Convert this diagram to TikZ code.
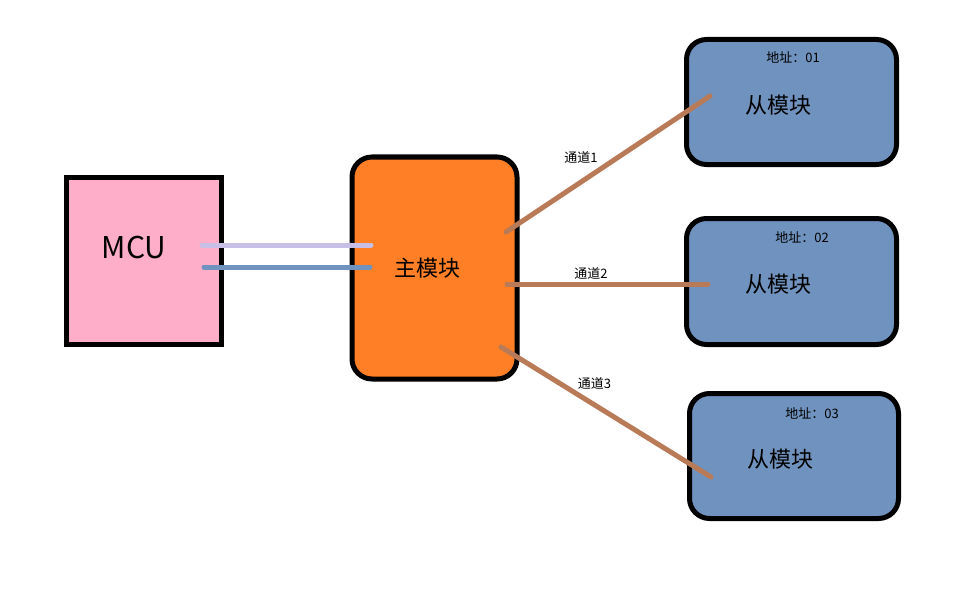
\documentclass[tikz,border=0pt]{standalone}
\usepackage{fontspec}
\setmainfont{Noto Sans CJK SC}
\definecolor{mcupink}{HTML}{FFAEC9}
\definecolor{mainorange}{HTML}{FF7F27}
\definecolor{slaveblue}{HTML}{7092BE}
\definecolor{chanbrown}{HTML}{B97A57}
\definecolor{lav}{HTML}{C8BFE7}
\begin{document}
\begin{tikzpicture}[x=1pt,y=-1pt,
  boxline/.style={draw=black,line width=5pt},
  slavebox/.style={boxline,fill=slaveblue,rounded corners=20pt},
  wire/.style={line width=5pt,line cap=round},
  chan/.style={wire,draw=chanbrown},
  big/.style={font=\fontsize{30}{34}\selectfont,inner sep=0pt},
  mid/.style={font=\fontsize{22}{26}\selectfont,inner sep=0pt},
  small/.style={font=\fontsize{13}{15}\selectfont,inner sep=0pt}]
\useasboundingbox (0,0) rectangle (969,591);
% boxes
\draw[boxline,fill=mcupink] (66.5,177.5) rectangle (221.5,344.5);
\node[big] (mcu) at (134,248) {MCU};
\draw[boxline,fill=mainorange,rounded corners=20pt] (352,157) rectangle (517,379);
\node[mid] (main) at (427,268) {主模块};
\draw[slavebox] (686.5,39.5) rectangle (896.5,164.5);
\draw[slavebox] (686.5,218.5) rectangle (896.5,344.5);
\draw[slavebox] (689.5,393.5) rectangle (898.5,518.5);
\node[small] (a1) at (793,57) {地址：01};
\node[mid] (s1) at (778,105) {从模块};
\node[small] (a2) at (802,237) {地址：02};
\node[mid] (s2) at (778,284) {从模块};
\node[small] (a3) at (812,413) {地址：03};
\node[mid] (s3) at (780,459) {从模块};
% endpoints
\coordinate (m1) at (202,245);
\coordinate (m2) at (204,267);
\coordinate (n1) at (371,245);
\coordinate (n2) at (370,267);
\coordinate (c1a) at (506,232);
\coordinate (c1b) at (710,96);
\coordinate (c2a) at (507,284);
\coordinate (c2b) at (708,284);
\coordinate (c3a) at (501,347);
\coordinate (c3b) at (711,477);
% wires
\draw[wire,draw=lav] (m1) -- (n1);
\draw[wire,draw=slaveblue] (m2) -- (n2);
\draw[chan] (c1a) -- (c1b);
\draw[chan] (c2a) -- (c2b);
\draw[chan] (c3a) -- (c3b);
\node[small] (t1) at (581,157) {通道1};
\node[small] (t2) at (591,273) {通道2};
\node[small] (t3) at (594.5,383) {通道3};
\end{tikzpicture}
\end{document}
